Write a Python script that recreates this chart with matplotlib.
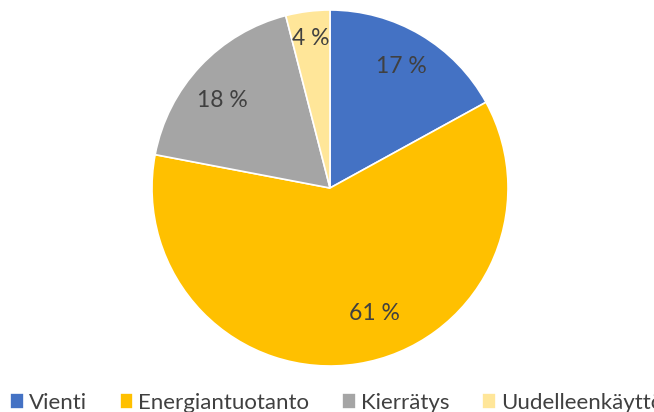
import matplotlib
matplotlib.use("Agg")
import matplotlib.pyplot as plt
import numpy as np

categories = ["Vienti", "Energiantuotanto", "Kierrätys", "Uudelleenkäyttö"]
values = [17, 61, 18, 4]
colors = ["#4472C4", "#FFC000", "#A5A5A5", "#FFE699"]

# label placement (fraction of radius, angle in degrees) as in the reference layout
label_r = [0.79, 0.745, 0.78, 0.845]
label_ang = [59.6, -70.6, 141.1, 97.3]

plt.rcParams['font.family'] = ['Lato', 'DejaVu Sans']

fig = plt.figure(figsize=(6.54, 4.12), dpi=100)
# pie center (330,188) radius 178 px
ax = fig.add_axes([(330-178)/654, 1-(188+178)/412, 356/654, 356/412])
wedges, texts, autotexts = ax.pie(
    values, colors=colors, startangle=90, counterclock=False,
    autopct=lambda p: f"{p:.0f} %", pctdistance=0.78,
    wedgeprops=dict(edgecolor="white", linewidth=1.2),
    textprops=dict(color="#404040", fontsize=16.5))
for t, r, a in zip(autotexts, label_r, label_ang):
    t.set_position((r*np.cos(np.radians(a)), r*np.sin(np.radians(a))))
ax.set_xlim(-1, 1)
ax.set_ylim(-1, 1)
ax.set_aspect("equal")

leg = fig.legend(wedges, categories, loc="center left",
                 bbox_to_anchor=(10/654, 1-403/412), ncol=4, frameon=False,
                 fontsize=16, handlelength=0.62, handleheight=0.75,
                 handletextpad=0.22, columnspacing=1.48, borderaxespad=0,
                 borderpad=0.0)
for t in leg.get_texts():
    t.set_color("#404040")

fig.savefig("out.png", dpi=100)
